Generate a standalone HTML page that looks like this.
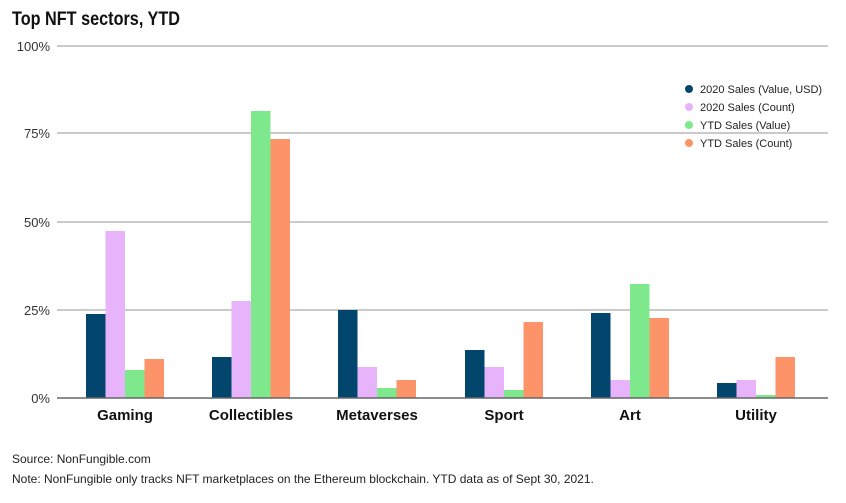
<!DOCTYPE html>
<html><head><style>
body{margin:0;background:#fff;font-family:"Liberation Sans",sans-serif;}
</style></head><body>
<svg width="846" height="498" xmlns="http://www.w3.org/2000/svg" font-family="Liberation Sans, sans-serif">
<text x="12" y="25" font-size="19" font-weight="bold" fill="#111" transform="scale(1,1)" textLength="168" lengthAdjust="spacingAndGlyphs">Top NFT sectors, YTD</text>
<g stroke="#aaa" stroke-width="1.3">
<line x1="57" x2="828" y1="46" y2="46"/>
<line x1="57" x2="828" y1="133" y2="133"/>
<line x1="57" x2="828" y1="222" y2="222"/>
<line x1="57" x2="828" y1="310" y2="310"/>
</g>
<g font-size="13" fill="#333" text-anchor="end">
<text x="50" y="51">100%</text>
<text x="50" y="138">75%</text>
<text x="50" y="227">50%</text>
<text x="50" y="315">25%</text>
<text x="50" y="403">0%</text>
</g>
<g>
<rect x="86" y="314" width="19.5" height="84" fill="#02466e"/>
<rect x="105.5" y="231" width="19.5" height="167" fill="#e7b3fb"/>
<rect x="125" y="370" width="19.5" height="28" fill="#7ee88c"/>
<rect x="144.5" y="359" width="19.5" height="39" fill="#fd9368"/>

<rect x="212" y="357" width="19.5" height="41" fill="#02466e"/>
<rect x="231.5" y="301" width="19.5" height="97" fill="#e7b3fb"/>
<rect x="251" y="111" width="19.5" height="287" fill="#7ee88c"/>
<rect x="270.5" y="139" width="19.5" height="259" fill="#fd9368"/>

<rect x="338" y="310" width="19.5" height="88" fill="#02466e"/>
<rect x="357.5" y="367" width="19.5" height="31" fill="#e7b3fb"/>
<rect x="377" y="388" width="19.5" height="10" fill="#7ee88c"/>
<rect x="396.5" y="380" width="19.5" height="18" fill="#fd9368"/>

<rect x="465" y="350" width="19.5" height="48" fill="#02466e"/>
<rect x="484.5" y="367" width="19.5" height="31" fill="#e7b3fb"/>
<rect x="504" y="390" width="19.5" height="8" fill="#7ee88c"/>
<rect x="523.5" y="322" width="19.5" height="76" fill="#fd9368"/>

<rect x="591" y="313" width="19.5" height="85" fill="#02466e"/>
<rect x="610.5" y="380" width="19.5" height="18" fill="#e7b3fb"/>
<rect x="630" y="284" width="19.5" height="114" fill="#7ee88c"/>
<rect x="649.5" y="318" width="19.5" height="80" fill="#fd9368"/>

<rect x="717" y="383" width="19.5" height="15" fill="#02466e"/>
<rect x="736.5" y="380" width="19.5" height="18" fill="#e7b3fb"/>
<rect x="756" y="395" width="19.5" height="3" fill="#7ee88c"/>
<rect x="775.5" y="357" width="19.5" height="41" fill="#fd9368"/>
</g>
<line x1="57" x2="828" y1="398" y2="398" stroke="#666" stroke-width="1.5"/>
<g font-size="15" font-weight="bold" fill="#111" text-anchor="middle">
<text x="125" y="420">Gaming</text>
<text x="251" y="420">Collectibles</text>
<text x="377" y="420">Metaverses</text>
<text x="504" y="420">Sport</text>
<text x="630" y="420">Art</text>
<text x="756" y="420">Utility</text>
</g>
<g font-size="11" fill="#222">
<circle cx="689" cy="89" r="4" fill="#02466e"/><text x="700" y="93">2020 Sales (Value, USD)</text>
<circle cx="689" cy="81" r="0" /><circle cx="689" cy="107" r="4" fill="#e7b3fb"/><text x="700" y="111">2020 Sales (Count)</text>
<circle cx="689" cy="125" r="4" fill="#7ee88c"/><text x="700" y="129">YTD Sales (Value)</text>
<circle cx="689" cy="143" r="4" fill="#fd9368"/><text x="700" y="147">YTD Sales (Count)</text>
</g>
<g font-size="12" fill="#222">
<text x="12" y="463">Source: NonFungible.com</text>
<text x="12" y="483">Note: NonFungible only tracks NFT marketplaces on the Ethereum blockchain. YTD data as of Sept 30, 2021.</text>
</g>
</svg>
</body></html>
